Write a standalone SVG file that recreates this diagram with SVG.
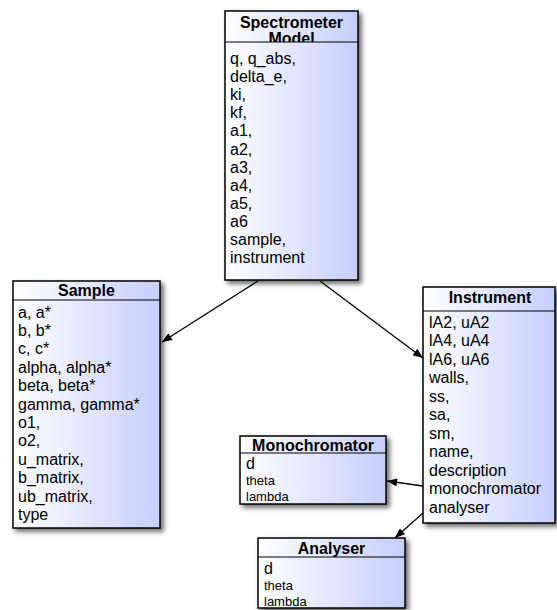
<svg xmlns="http://www.w3.org/2000/svg" width="557" height="610" viewBox="0 0 557 610">
<style>
.box{fill:url(#g);stroke:#000;stroke-width:1.5;filter:url(#sh)}
.sep{stroke:#000;stroke-width:1.2}
.hd{font-family:"Liberation Sans",Arial,sans-serif;font-weight:bold;font-size:16px;fill:#000;text-anchor:middle}
.tx{font-family:"Liberation Sans",Arial,sans-serif;font-size:16px;fill:#000}
.sm{font-family:"Liberation Sans",Arial,sans-serif;font-size:13px;fill:#000}
.ln{stroke:#000;stroke-width:1.3;fill:none;marker-end:url(#ah)}
</style>
<defs>
<linearGradient id="g" x1="0" y1="0" x2="1" y2="0">
<stop offset="0" stop-color="#ffffff"/>
<stop offset="1" stop-color="#c6cefc"/>
</linearGradient>
<filter id="sh" x="-10%" y="-10%" width="130%" height="130%">
<feDropShadow dx="3" dy="3" stdDeviation="2.5" flood-color="#000" flood-opacity="0.6"/>
</filter>
<clipPath id="hc"><rect x="225" y="11" width="133" height="31"/></clipPath>
<marker id="ah" viewBox="0 0 10 8" refX="10" refY="4" markerWidth="11" markerHeight="8" markerUnits="userSpaceOnUse" orient="auto">
<path d="M0,0 L10,4 L0,8 z" fill="#000"/>
</marker>
</defs>

<g id="connectors">
<line class="ln" x1="258" y1="281" x2="162" y2="342"/>
<line class="ln" x1="320" y1="281" x2="423" y2="358"/>
<line class="ln" x1="423" y1="486" x2="387" y2="481"/>
<line class="ln" x1="423" y1="513" x2="395" y2="538"/>
</g>

<g id="spectrometer-model">
<rect class="box" x="225" y="11" width="133" height="269"/>
<g clip-path="url(#hc)">
<text class="hd" x="291.5" y="28">Spectrometer</text>
<text class="hd" x="291.5" y="44">Model</text>
</g>
<line class="sep" x1="225" y1="42" x2="358" y2="42"/>
<text class="tx" x="230" y="64">q, q_abs,</text>
<text class="tx" x="230" y="82.1">delta_e,</text>
<text class="tx" x="230" y="100.2">ki,</text>
<text class="tx" x="230" y="118.3">kf,</text>
<text class="tx" x="230" y="136.4">a1,</text>
<text class="tx" x="230" y="154.5">a2,</text>
<text class="tx" x="230" y="172.6">a3,</text>
<text class="tx" x="230" y="190.7">a4,</text>
<text class="tx" x="230" y="208.8">a5,</text>
<text class="tx" x="230" y="226.9">a6</text>
<text class="tx" x="230" y="245">sample,</text>
<text class="tx" x="230" y="263.1">instrument</text>
</g>

<g id="sample">
<rect class="box" x="13" y="281" width="147" height="247"/>
<text class="hd" x="86.5" y="296">Sample</text>
<line class="sep" x1="13" y1="300" x2="160" y2="300"/>
<text class="tx" x="18" y="317.5">a, a*</text>
<text class="tx" x="18" y="335.9">b, b*</text>
<text class="tx" x="18" y="354.3">c, c*</text>
<text class="tx" x="18" y="372.7">alpha, alpha*</text>
<text class="tx" x="18" y="391.1">beta, beta*</text>
<text class="tx" x="18" y="409.5">gamma, gamma*</text>
<text class="tx" x="18" y="427.9">o1,</text>
<text class="tx" x="18" y="446.3">o2,</text>
<text class="tx" x="18" y="464.7">u_matrix,</text>
<text class="tx" x="18" y="483.1">b_matrix,</text>
<text class="tx" x="18" y="501.5">ub_matrix,</text>
<text class="tx" x="18" y="519.9">type</text>
</g>

<g id="instrument">
<rect class="box" x="423" y="287" width="132" height="236"/>
<text class="hd" x="490" y="303">Instrument</text>
<line class="sep" x1="423" y1="311" x2="555" y2="311"/>
<text class="tx" x="429" y="327.5">lA2, uA2</text>
<text class="tx" x="429" y="346">lA4, uA4</text>
<text class="tx" x="429" y="364.5">lA6, uA6</text>
<text class="tx" x="429" y="383">walls,</text>
<text class="tx" x="429" y="401.5">ss,</text>
<text class="tx" x="429" y="420">sa,</text>
<text class="tx" x="429" y="438.5">sm,</text>
<text class="tx" x="429" y="457">name,</text>
<text class="tx" x="429" y="475.5">description</text>
<text class="tx" x="429" y="494">monochromator</text>
<text class="tx" x="429" y="512.5">analyser</text>
</g>

<g id="monochromator">
<rect class="box" x="240" y="436" width="146" height="68"/>
<text class="hd" x="313" y="451">Monochromator</text>
<line class="sep" x1="240" y1="453" x2="386" y2="453"/>
<text class="tx" x="246" y="469">d</text>
<text class="sm" x="246" y="484.5">theta</text>
<text class="sm" x="246" y="500.5">lambda</text>
</g>

<g id="analyser">
<rect class="box" x="258" y="538" width="147" height="70"/>
<text class="hd" x="331.5" y="554">Analyser</text>
<line class="sep" x1="258" y1="557" x2="405" y2="557"/>
<text class="tx" x="264" y="574">d</text>
<text class="sm" x="264" y="589.5">theta</text>
<text class="sm" x="264" y="606">lambda</text>
</g>
</svg>
